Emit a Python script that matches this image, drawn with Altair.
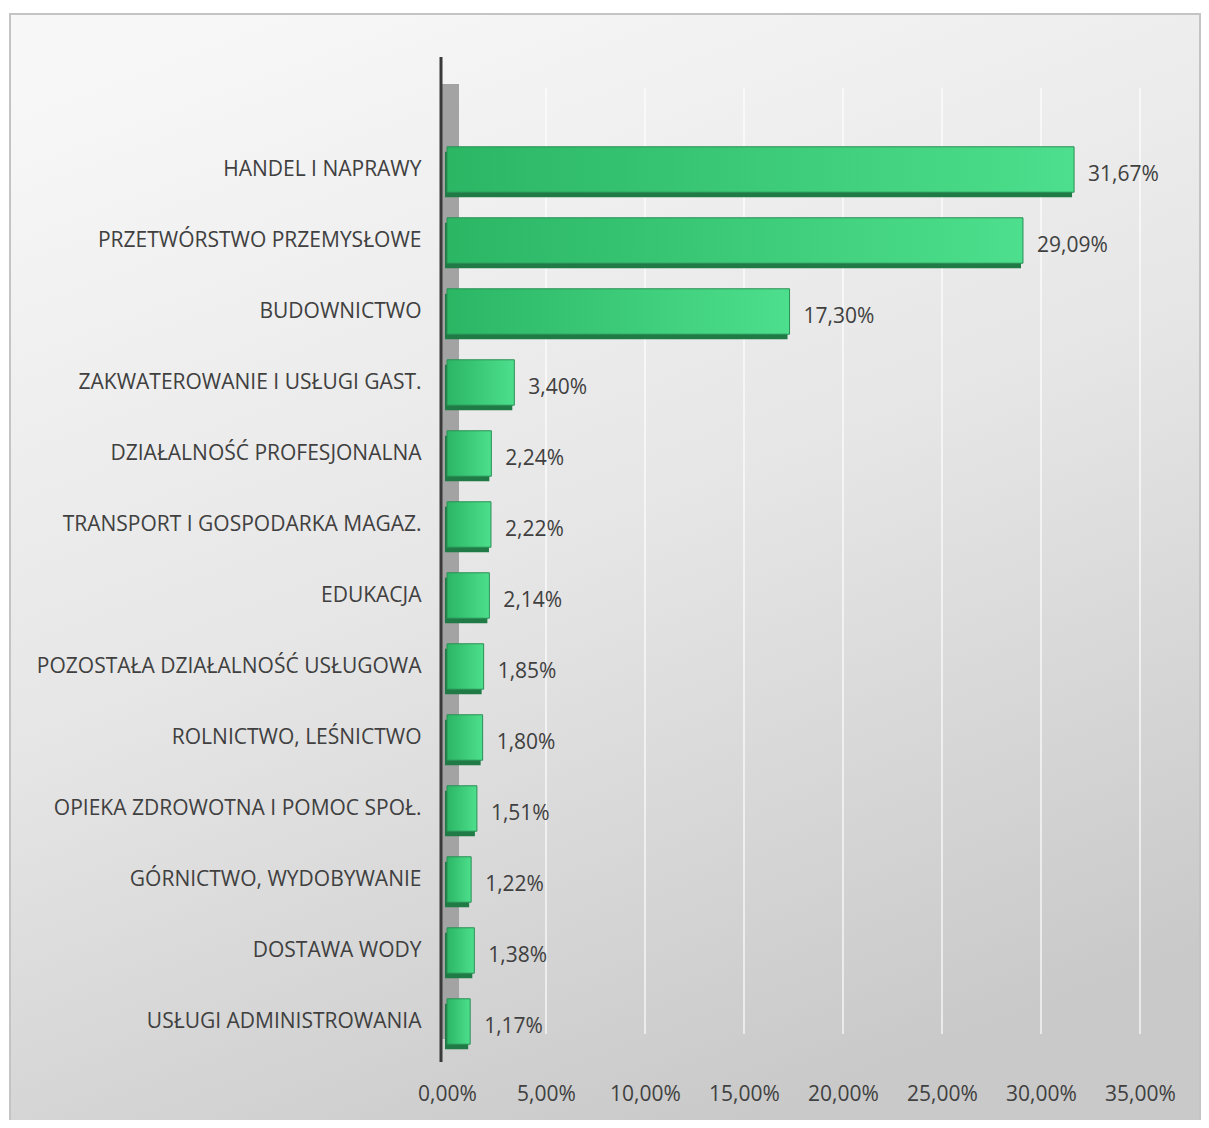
import altair as alt
import pandas as pd

categories = [
    "HANDEL I NAPRAWY",
    "PRZETWÓRSTWO PRZEMYSŁOWE",
    "BUDOWNICTWO",
    "ZAKWATEROWANIE I USŁUGI GAST.",
    "DZIAŁALNOŚĆ PROFESJONALNA",
    "TRANSPORT I GOSPODARKA MAGAZ.",
    "EDUKACJA",
    "POZOSTAŁA DZIAŁALNOŚĆ USŁUGOWA",
    "ROLNICTWO, LEŚNICTWO",
    "OPIEKA ZDROWOTNA I POMOC SPOŁ.",
    "GÓRNICTWO, WYDOBYWANIE",
    "DOSTAWA WODY",
    "USŁUGI ADMINISTROWANIA",
]
values = [31.67, 29.09, 17.30, 3.40, 2.24, 2.22, 2.14, 1.85, 1.80, 1.51, 1.22, 1.38, 1.17]
x_ticks = [0, 5, 10, 15, 20, 25, 30, 35]

df = pd.DataFrame({
    "cat": categories,
    "val": values,
    "label": [f"{v:.2f}".replace(".", ",") + "%" for v in values],
})
grid_df = pd.DataFrame({"t": x_ticks})

W, H = 693, 923
FONT = "Open Sans"
TXT = "#404040"

xscale = alt.Scale(domain=[0, 35], nice=False, zero=True)
yscale = alt.Scale(domain=categories, paddingInner=0.36, paddingOuter=0.18)

x_axis = alt.Axis(title=None, values=x_ticks, grid=False, domain=False, ticks=False,
                  labelPadding=26, labelFont=FONT, labelFontSize=21, labelColor=TXT, zindex=2,
                  labelOverlap=False, labelFlush=False, labelBound=False,
                  labelExpr="replace(format(datum.value, '.2f'), '.', ',') + '%'")
y_axis = alt.Axis(title=None, domain=False, ticks=False, labelPadding=26, zindex=2,
                  labelFont=FONT, labelFontSize=21, labelColor=TXT, labelLimit=500,
                  labelOverlap=False)

# background panel with gradient
bg = alt.Chart(pd.DataFrame({"a": [0]})).mark_rect(
    fill=alt.Gradient(
        gradient="linear", x1=0.2, y1=0, x2=0.6, y2=1,
        stops=[alt.GradientStop(offset=0, color="#f7f7f7"),
               alt.GradientStop(offset=0.5, color="#e6e6e6"),
               alt.GradientStop(offset=1, color="#c9c9c9")]),
    stroke="#c4c4c4", strokeWidth=2,
).encode(x=alt.value(-437), x2=alt.value(753), y=alt.value(-120), y2=alt.value(996))

grid = alt.Chart(grid_df).transform_filter("datum.t > 0").mark_rule(
    color="#ffffff", strokeWidth=1.5, opacity=0.8
).encode(
    x=alt.X("t:Q", scale=xscale, axis=x_axis),
    y=alt.value(-46), y2=alt.value(900),
)

wall = alt.Chart(pd.DataFrame({"a": [0]})).mark_rect(color="#a3a3a3").encode(
    x=alt.value(-5), x2=alt.value(12), y=alt.value(-50), y2=alt.value(905)
)
axis_line = alt.Chart(pd.DataFrame({"a": [0]})).mark_rule(color="#3a3a3a", strokeWidth=3).encode(
    x=alt.value(-6), y=alt.value(-77), y2=alt.value(928)
)

shadow = alt.Chart(df).mark_bar(color="#1f7a45", yOffset=5, xOffset=-2).encode(
    y=alt.Y("cat:N", sort=categories, scale=yscale, axis=y_axis),
    x=alt.X("val:Q", scale=xscale),
)

bars = alt.Chart(df).mark_bar(
    fill=alt.Gradient(
        gradient="linear", x1=0, y1=0, x2=1, y2=0,
        stops=[alt.GradientStop(offset=0, color="#2bb664"),
               alt.GradientStop(offset=1, color="#4ddf8d")]),
    stroke="#2a8f55", strokeWidth=1,
).encode(
    y=alt.Y("cat:N", sort=categories, scale=yscale),
    x=alt.X("val:Q", scale=xscale),
)

text = alt.Chart(df).mark_text(
    align="left", baseline="middle", dx=14, dy=5, font=FONT, fontSize=21, color=TXT
).encode(
    y=alt.Y("cat:N", sort=categories, scale=yscale),
    x=alt.X("val:Q", scale=xscale),
    text="label:N",
)

chart = alt.layer(bg, grid, wall, axis_line, shadow, bars, text).properties(
    width=W, height=H,
    autosize=alt.AutoSizeParams(type="none"),
    padding={"left": 439, "top": 126, "right": 61, "bottom": 63},
    background="#ffffff",
).configure_view(stroke=None)

chart.save("out.html", embed_options={"renderer": "svg", "actions": False})
